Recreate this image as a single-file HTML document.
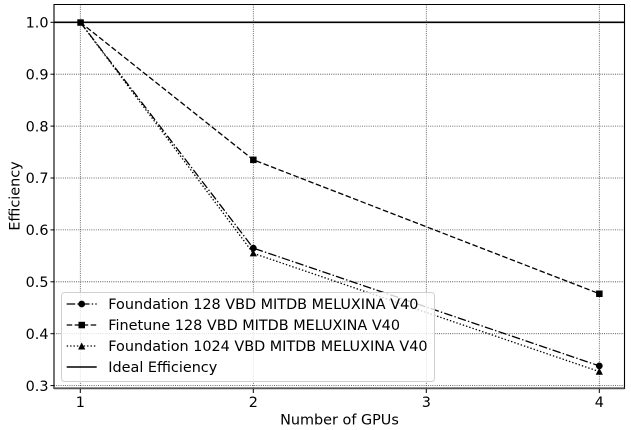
<!DOCTYPE html>
<html>
<head>
<meta charset="utf-8">
<style>
  html,body{margin:0;padding:0;background:#fff;}
  svg{display:block;}
  text{font-family:"DejaVu Sans","Liberation Sans",sans-serif;fill:#000;}
</style>
</head>
<body>
<svg width="631" height="430" viewBox="0 0 631 430" xmlns="http://www.w3.org/2000/svg">
  <rect x="0" y="0" width="631" height="430" fill="#fff"/>
  <!-- grid -->
  <g stroke="#444" stroke-width="0.8" stroke-dasharray="1,1.2" fill="none">
    <line x1="80.3" y1="4.5" x2="80.3" y2="388.5"/>
    <line x1="253.3" y1="4.5" x2="253.3" y2="388.5"/>
    <line x1="426.3" y1="4.5" x2="426.3" y2="388.5"/>
    <line x1="599.3" y1="4.5" x2="599.3" y2="388.5"/>
    <line x1="54" y1="74.2" x2="624.5" y2="74.2"/>
    <line x1="54" y1="126.1" x2="624.5" y2="126.1"/>
    <line x1="54" y1="178" x2="624.5" y2="178"/>
    <line x1="54" y1="229.9" x2="624.5" y2="229.9"/>
    <line x1="54" y1="281.8" x2="624.5" y2="281.8"/>
    <line x1="54" y1="333.7" x2="624.5" y2="333.7"/>
    <line x1="54" y1="385.6" x2="624.5" y2="385.6"/>
  </g>
  <!-- ideal -->
  <line x1="54" y1="22.3" x2="624.5" y2="22.3" stroke="#000" stroke-width="1.6"/>
  <!-- series -->
  <g fill="none" stroke="#000" stroke-width="1.3">
    <polyline points="80.3,22.3 253.3,159.8 599.3,293.7" stroke-dasharray="5.5,2.5"/>
    <polyline points="80.3,22.3 253.3,248.1 599.3,365.9" stroke-dasharray="8.5,2.2,1.4,2.2"/>
    <polyline points="80.3,22.3 253.3,253.3 599.3,371.6" stroke-dasharray="1.4,2.0"/>
  </g>
  <!-- markers -->
  <g fill="#000">
    <rect x="77.3" y="19.3" width="6.5" height="6.5"/>
    <rect x="250.1" y="156.6" width="6.5" height="6.5"/>
    <rect x="596.1" y="290.5" width="6.5" height="6.5"/>
    <circle cx="253.3" cy="248.1" r="3.4"/>
    <circle cx="599.3" cy="365.9" r="3.4"/>
    <polygon points="253.3,249.4 256.9,256.4 249.7,256.4"/>
    <polygon points="599.3,367.8 602.9,374.8 595.7,374.8"/>
  </g>
  <!-- spines -->
  <g stroke="#000" stroke-width="1.1" fill="none">
    <line x1="54" y1="4.5" x2="624.5" y2="4.5"/>
    <line x1="54" y1="4" x2="54" y2="389"/>
    <line x1="624.5" y1="4" x2="624.5" y2="389"/>
  </g>
  <line x1="54" y1="388.3" x2="624.5" y2="388.3" stroke="#555" stroke-width="1.8"/>
  <!-- ticks -->
  <g stroke="#000" stroke-width="1">
    <line x1="50.5" y1="22.3" x2="54" y2="22.3"/>
    <line x1="50.5" y1="74.2" x2="54" y2="74.2"/>
    <line x1="50.5" y1="126.1" x2="54" y2="126.1"/>
    <line x1="50.5" y1="178" x2="54" y2="178"/>
    <line x1="50.5" y1="229.9" x2="54" y2="229.9"/>
    <line x1="50.5" y1="281.8" x2="54" y2="281.8"/>
    <line x1="50.5" y1="333.7" x2="54" y2="333.7"/>
    <line x1="50.5" y1="385.6" x2="54" y2="385.6"/>
    <line x1="80.3" y1="389" x2="80.3" y2="393"/>
    <line x1="253.3" y1="389" x2="253.3" y2="393"/>
    <line x1="426.3" y1="389" x2="426.3" y2="393"/>
    <line x1="599.3" y1="389" x2="599.3" y2="393"/>
  </g>
  <!-- tick labels -->
  <g font-size="14.4" text-anchor="end">
    <text x="48.5" y="27.5">1.0</text>
    <text x="48.5" y="79.4">0.9</text>
    <text x="48.5" y="131.3">0.8</text>
    <text x="48.5" y="183.2">0.7</text>
    <text x="48.5" y="235.1">0.6</text>
    <text x="48.5" y="287">0.5</text>
    <text x="48.5" y="338.9">0.4</text>
    <text x="48.5" y="390.8">0.3</text>
  </g>
  <g font-size="14.4" text-anchor="middle">
    <text x="80.3" y="407">1</text>
    <text x="253.3" y="407">2</text>
    <text x="426.3" y="407">3</text>
    <text x="599.3" y="407">4</text>
  </g>
  <!-- axis labels -->
  <text x="339.5" y="424.5" font-size="14.4" text-anchor="middle">Number of GPUs</text>
  <text transform="translate(19.5,196) rotate(-90)" font-size="14.4" text-anchor="middle">Efficiency</text>
  <!-- legend -->
  <rect x="61.5" y="292.5" width="373" height="89" rx="3" ry="3" fill="#fff" fill-opacity="0.8" stroke="#d0d0d0" stroke-width="1"/>
  <g fill="none" stroke="#000" stroke-width="1.3">
    <line x1="66.7" y1="304" x2="96.7" y2="304" stroke-dasharray="8.5,2.2,1.4,2.2"/>
    <line x1="66.7" y1="325" x2="96.7" y2="325" stroke-dasharray="5.5,2.5"/>
    <line x1="66.7" y1="346" x2="96.7" y2="346" stroke-dasharray="1.4,2.0"/>
    <line x1="66.7" y1="367" x2="96.7" y2="367" stroke-width="1.6"/>
  </g>
  <g fill="#000">
    <circle cx="81.7" cy="304" r="3.4"/>
    <rect x="78.5" y="321.8" width="6.5" height="6.5"/>
    <polygon points="81.7,342.5 85.3,349.5 78.1,349.5"/>
  </g>
  <g font-size="14.4">
    <text x="108.3" y="309.2">Foundation 128 VBD MITDB MELUXINA V40</text>
    <text x="108.3" y="330.2">Finetune 128 VBD MITDB MELUXINA V40</text>
    <text x="108.3" y="351.2">Foundation 1024 VBD MITDB MELUXINA V40</text>
    <text x="108.3" y="372.2">Ideal Efficiency</text>
  </g>
</svg>
</body>
</html>
